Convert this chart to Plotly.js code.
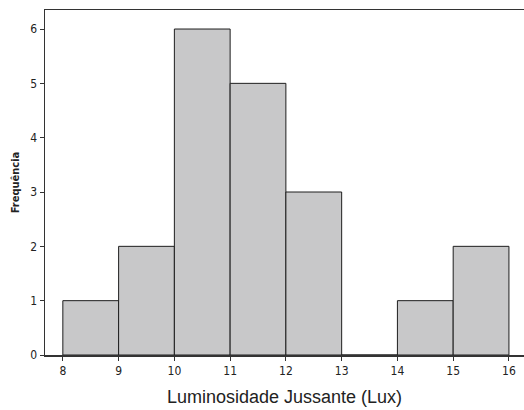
<!DOCTYPE html>
<html>
<head>
<meta charset="utf-8">
<script src="https://cdn.plot.ly/plotly-3.0.1.min.js"></script>
<style>
  html, body { margin: 0; padding: 0; background: #fff; }
  #chart { width: 524px; height: 410px; }
</style>
</head>
<body>
<div id="chart"></div>
<script>
// Histogram bins (lower edges, width 1 lux) and their counts
const binStarts = [8, 9, 10, 11, 12, 13, 14, 15];
const counts    = [1, 2, 6, 5, 3, 0, 1, 2];
const xTicks    = [8, 9, 10, 11, 12, 13, 14, 15, 16];
const yTicks    = [0, 1, 2, 3, 4, 5, 6];

const binWidth = 1;
const centers = binStarts.map(b => b + binWidth / 2);

const tickFont = { family: '"DejaVu Sans Condensed", "DejaVu Sans", sans-serif', size: 12, color: '#222' };

const trace = {
  type: 'bar',
  x: centers,
  y: counts,
  width: binWidth,
  marker: { color: '#c8c8c9', line: { color: '#1e1e1e', width: 1 } },
  hoverinfo: 'x+y'
};

const layout = {
  width: 524,
  height: 410,
  margin: { l: 45, r: 0, t: 10, b: 55 },
  paper_bgcolor: '#ffffff',
  plot_bgcolor: '#ffffff',
  showlegend: false,
  bargap: 0,
  xaxis: {
    range: [7.68, 16.27],
    tickvals: xTicks,
    ticktext: xTicks.map(String),
    ticks: 'outside',
    ticklen: 4,
    tickcolor: '#333',
    tickfont: tickFont,
    showgrid: false,
    zeroline: false,
    showline: true,
    linecolor: '#333',
    linewidth: 1.5,
    mirror: true,
    title: {
      text: 'Luminosidade Jussante (Lux)',
      font: { family: '"Liberation Sans", Arial, sans-serif', size: 18, color: '#222' },
      standoff: 13
    }
  },
  yaxis: {
    range: [0, 6.35],
    tickvals: yTicks,
    ticktext: yTicks.map(String),
    ticks: 'outside',
    ticklen: 4,
    tickcolor: '#333',
    tickfont: tickFont,
    showgrid: false,
    zeroline: false,
    showline: true,
    linecolor: '#333',
    linewidth: 1.5,
    title: {
      text: '<b>Frequência</b>',
      font: { family: '"DejaVu Sans Condensed", "DejaVu Sans", sans-serif', size: 11, color: '#222' },
      standoff: 8
    }
  }
};

Plotly.newPlot('chart', [trace], layout, { displayModeBar: false, staticPlot: true });
</script>
</body>
</html>
